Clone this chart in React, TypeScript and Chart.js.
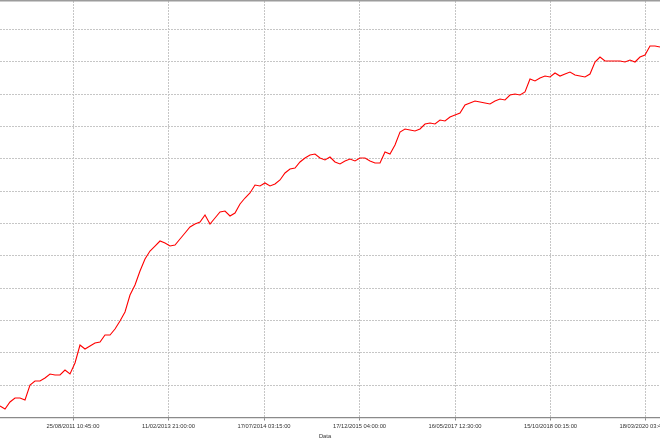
import React, { useEffect, useRef } from "react";
import { Chart, registerables } from "chart.js";

Chart.register(...registerables);

// Equity curve sampled along the bar axis (one sample every bar step)
const EQUITY: number[] = [
  355, 263, 479, 603, 603, 541, 1005, 1128, 1128, 1221,
  1345, 1314, 1314, 1468, 1345, 1685, 2241, 2117, 2210, 2303,
  2334, 2550, 2550, 2736, 2983, 3261, 3787, 4096, 4529, 4900,
  5147, 5301, 5456, 5394, 5301, 5332, 5518, 5703, 5889, 5981,
  6043, 6260, 5981, 6167, 6352, 6383, 6229, 6322, 6600, 6785,
  6940, 7187, 7156, 7249, 7156, 7218, 7342, 7558, 7682, 7713,
  7898, 8022, 8114, 8145, 8022, 7960, 8053, 7898, 7836, 7929,
  7991, 7929, 8022, 8022, 7929, 7867, 7867, 8207, 8145, 8424,
  8825, 8918, 8887, 8856, 8918, 9073, 9104, 9073, 9196, 9165,
  9289, 9351, 9413, 9660, 9722, 9784, 9753, 9722, 9691, 9784,
  9845, 9815, 9969, 10000, 9969, 10062, 10464, 10402, 10495, 10556,
  10526, 10649, 10556, 10618, 10680, 10587, 10556, 10526, 10618, 10989,
  11144, 11020, 11020, 11020, 11020, 10989, 11051, 10989, 11144, 11206,
  11484, 11484, 11453,
];

// Positions (in bar-sample units) of the date ticks, and their labels
const TICK_POS: number[] = [14.6, 33.7, 52.8, 71.9, 91.0, 110.1, 129.2];
const TICK_LABELS: string[] = [
  "25/08/2011 10:45:00",
  "11/02/2013 21:00:00",
  "17/07/2014 03:15:00",
  "17/12/2015 04:00:00",
  "16/05/2017 12:30:00",
  "15/10/2018 00:15:00",
  "18/03/2020 03:45:00",
];
const Y_GRID: number[] = [0, 1000, 2000, 3000, 4000, 5000, 6000, 7000, 8000, 9000, 10000, 11000, 12000];

const X_MIN = -3;
const X_MAX = 133;
const Y_MIN = 0;
const Y_MAX = 12875;

const FONT = "'Liberation Sans', Arial, sans-serif";

export default function App() {
  const canvasRef = useRef<HTMLCanvasElement | null>(null);

  useEffect(() => {
    const canvas = canvasRef.current;
    if (!canvas) return;
    const chart = new Chart(canvas, {
      type: "line",
      data: {
        datasets: [
          {
            label: "Equity",
            data: EQUITY.map((v, i) => ({ x: i, y: v })),
            borderColor: "#ff0000",
            backgroundColor: "#ff0000",
            borderWidth: 1.1,
            pointRadius: 0,
            fill: false,
            tension: 0,
          },
        ],
      },
      options: {
        animation: false,
        responsive: true,
        maintainAspectRatio: false,
        layout: { padding: { left: 10, right: 20, top: 1, bottom: 0 } },
        plugins: {
          legend: { display: false },
          tooltip: { enabled: false },
        },
        scales: {
          x: {
            type: "linear",
            position: "bottom",
            min: X_MIN,
            max: X_MAX,
            afterBuildTicks: (s: any) => {
              s.ticks = TICK_POS.map((v) => ({ value: v }));
            },
            afterFit: (s: any) => {
              s.height = 22.5;
            },
            grid: {
              color: "#c6c6c6",
              lineWidth: 1,
              tickLength: 3,
              tickColor: "#8a8a8a",
              tickBorderDash: [],
            },
            border: { display: true, color: "#8a8a8a", width: 1.2, dash: [2, 1] },
            ticks: {
              autoSkip: false,
              maxRotation: 0,
              minRotation: 0,
              padding: 2,
              color: "#333333",
              font: { family: FONT, size: 5.8 },
              callback: (_v: any, i: number) => TICK_LABELS[i],
            },
            title: {
              display: true,
              text: "Data",
              color: "#333333",
              font: { family: FONT, size: 5.8 },
              padding: 0,
            },
          },
          xTop: {
            type: "linear",
            position: "top",
            min: X_MIN,
            max: X_MAX,
            afterFit: (s: any) => {
              s.height = 0;
            },
            grid: { display: false },
            ticks: { display: false },
            border: { display: true, color: "#9c9c9c", width: 1.5 },
          },
          y: {
            type: "linear",
            min: Y_MIN,
            max: Y_MAX,
            afterBuildTicks: (s: any) => {
              s.ticks = Y_GRID.map((v) => ({ value: v }));
            },
            afterFit: (s: any) => {
              s.width = 0;
            },
            ticks: { display: false },
            border: { display: false, dash: [2, 1] },
            grid: { color: "#c6c6c6", lineWidth: 1, drawTicks: false },
          },
        },
      } as any,
    });
    return () => chart.destroy();
  }, []);

  return (
    <div style={{ position: "fixed", left: -25, top: 0, width: 710, height: 440, background: "#ffffff" }}>
      <canvas ref={canvasRef} />
    </div>
  );
}
